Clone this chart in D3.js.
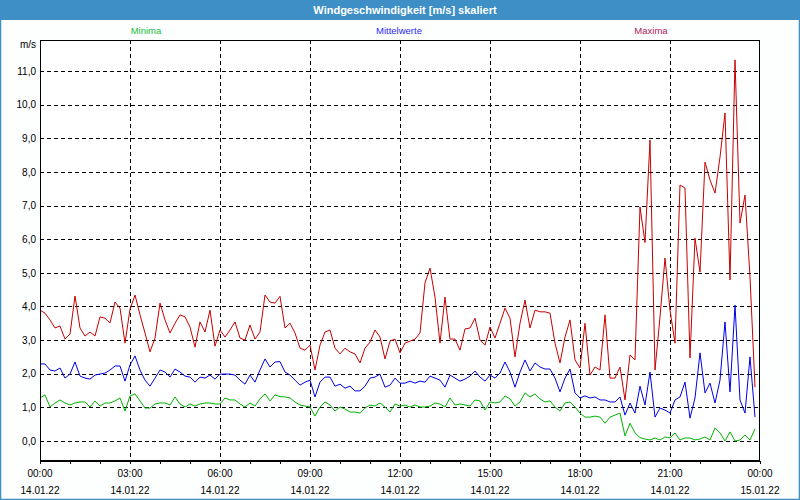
<!DOCTYPE html>
<html><head><meta charset="utf-8">
<script src="https://cdn.jsdelivr.net/npm/d3@7"></script>
<style>
html,body{margin:0;padding:0;background:#fdfefe;}
svg{display:block;}
text{font-family:"Liberation Sans",Arial,sans-serif;}
</style></head><body>
<svg id="chart" width="800" height="500"></svg>
<script>
const title = "Windgeschwindigkeit [m/s] skaliert";
const seriesNames = ["Minima", "Mittelwerte", "Maxima"];
const unitLabel = "m/s";
const yTicks = [0,1,2,3,4,5,6,7,8,9,10,11];
const xTickHours = [0,3,6,9,12,15,18,21,24];
const xTimeLabels = ["00:00","03:00","06:00","09:00","12:00","15:00","18:00","21:00","00:00"];
const xDateLabels = ["14.01.22","14.01.22","14.01.22","14.01.22","14.01.22","14.01.22","14.01.22","14.01.22","15.01.22"];
const stepMinutes = 10;

const maxima = [3.89,3.8,3.6,3.36,3.42,3.03,3.18,4.31,3.36,3.12,3.24,3.12,3.69,3.65,3.51,4.13,3.95,2.91,3.92,4.34,3.75,3.21,2.65,3.06,4.1,
3.6,3.21,3.5,3.75,3.69,3.39,2.79,3.54,3.24,3.89,2.82,3.3,3.09,3.3,3.54,3.06,3.0,3.45,3.03,3.24,4.34,4.13,4.1,4.3,
3.36,3.5,3.21,2.76,2.7,2.85,2.11,2.85,3.24,3.3,2.76,2.59,2.76,2.65,2.59,2.32,2.76,2.94,3.3,3.09,2.44,2.97,3.03,2.62,
2.91,2.97,3.03,3.21,4.7,5.14,4.28,2.91,4.28,3.03,3.03,2.7,3.33,3.36,3.65,3.0,2.85,3.39,3.06,3.5,3.95,3.65,2.5,3.5,
4.19,3.36,3.89,3.84,3.84,3.8,2.91,2.32,3.09,3.6,2.41,2.17,3.5,1.96,2.2,2.11,3.75,1.87,1.87,2.2,1.22,2.56,2.41,6.96,
5.9,8.95,2.11,3.69,5.44,3.89,2.91,7.61,7.52,2.47,6.03,5.02,8.29,7.76,7.37,8.44,9.75,4.79,11.33,6.48,7.31,4.88,1.6];

const mittel = [2.29,2.29,2.11,2.08,2.17,1.87,1.99,2.35,1.93,1.87,1.84,1.96,1.99,2.02,2.11,2.23,2.23,1.78,2.26,2.53,2.11,1.81,1.63,1.87,2.11,
2.05,1.9,2.14,2.05,1.93,1.9,1.75,1.9,1.87,1.96,1.84,1.99,1.99,1.99,1.96,1.81,1.69,1.96,1.75,2.11,2.44,2.2,2.35,2.36,
2.05,1.96,1.81,1.66,1.75,1.81,1.31,1.75,1.9,1.9,1.63,1.69,1.57,1.63,1.49,1.49,1.63,1.87,1.9,1.99,1.6,1.66,1.87,1.72,
1.72,1.78,1.72,1.78,1.75,1.93,1.87,1.81,1.6,1.96,1.87,1.78,1.84,1.93,2.08,1.9,1.78,1.96,1.87,2.02,2.35,2.05,1.6,2.05,
2.41,2.08,2.32,2.2,2.14,2.14,1.87,1.46,1.87,2.14,1.43,1.28,1.34,1.28,1.31,1.22,1.22,1.16,1.16,1.31,0.77,1.13,0.83,1.63,
1.07,2.05,0.71,0.98,0.92,0.83,1.22,1.31,1.75,0.68,1.28,2.62,1.43,1.72,1.13,1.81,3.54,1.46,4.04,1.22,0.83,2.5,0.71];

const minima = [1.28,1.37,1.01,1.13,1.22,1.13,1.07,1.13,1.16,1.16,1.01,1.19,1.04,1.13,1.13,1.19,1.28,0.89,1.34,1.4,1.19,0.98,0.98,1.1,1.13,
1.13,1.07,1.31,1.1,1.01,1.1,1.04,1.1,1.13,1.13,1.1,1.1,1.28,1.22,1.22,1.1,1.01,1.13,1.04,1.25,1.4,1.19,1.37,1.32,
1.31,1.28,1.16,1.07,1.04,1.01,0.74,1.01,1.16,1.07,0.89,1.01,0.95,0.86,0.86,0.83,0.98,1.07,1.04,1.13,1.01,0.86,1.1,1.04,
1.07,1.01,1.07,1.01,1.01,1.04,1.13,1.1,1.01,1.28,1.07,1.1,1.07,1.04,1.22,1.19,0.92,1.16,1.13,1.16,1.34,1.25,1.04,1.16,
1.43,1.31,1.4,1.25,1.16,1.19,1.01,0.89,1.13,1.16,1.01,0.83,0.71,0.71,0.74,0.71,0.53,0.71,0.77,0.83,0.15,0.53,0.24,0.1,
0.06,0.03,0.09,0.03,0.12,0.09,0.24,0.03,0.09,0.09,0.03,0.06,0.12,0.03,0.39,0.24,0.0,0.27,0.0,0.03,0.18,0.03,0.36];

const W = 800, H = 500;
const L = 40, R = 760, T = 40, B = 461;
const svg = d3.select("#chart");

// window frame and title bar
svg.append("rect").attr("x",0.5).attr("y",0.5).attr("width",W-1).attr("height",H-1)
  .attr("fill","#fdfefe").attr("stroke","#3d8fc6").attr("stroke-width",1.5);
svg.append("rect").attr("x",0).attr("y",0).attr("width",W).attr("height",20).attr("fill","#3d8fc6");
svg.append("text").attr("x",W/2+5).attr("y",14).attr("text-anchor","middle")
  .attr("fill","#ffffff").attr("font-weight","bold").attr("font-size","11px").text(title);

const x = d3.scaleLinear().domain([0,24]).range([L,R]);
const y = d3.scaleLinear().domain([0,11]).range([441,71]);

// plot background
svg.append("rect").attr("x",L).attr("y",T).attr("width",R-L).attr("height",B-T).attr("fill","#ffffff");

// grid
const grid = svg.append("g").attr("shape-rendering","crispEdges");
grid.selectAll("line.h").data(yTicks).join("line")
  .attr("x1",L).attr("x2",R).attr("y1",d=>Math.round(y(d))+0.5).attr("y2",d=>Math.round(y(d))+0.5)
  .attr("stroke","#000").attr("stroke-dasharray","4,3");
grid.selectAll("line.v").data(xTickHours.filter(h=>h>0&&h<24)).join("line")
  .attr("x1",d=>Math.round(x(d))+0.5).attr("x2",d=>Math.round(x(d))+0.5).attr("y1",T).attr("y2",B)
  .attr("stroke","#000").attr("stroke-dasharray","4,3");

// series lines
const line = d3.line().x((d,i)=>x(i*stepMinutes/60)).y(d=>y(d));
const series = [
  {name:"Maxima", data:maxima, color:"#c80000"},
  {name:"Mittelwerte", data:mittel, color:"#0000e6"},
  {name:"Minima", data:minima, color:"#00b400"}
];
const clip = svg.append("clipPath").attr("id","pc").append("rect")
  .attr("x",L).attr("y",T).attr("width",R-L).attr("height",B-T);
svg.append("g").attr("clip-path","url(#pc)").selectAll("path").data(series).join("path")
  .attr("d",d=>line(d.data)).attr("fill","none").attr("stroke",d=>d.color).attr("stroke-width",1);

// frame
svg.append("rect").attr("x",L+0.5).attr("y",T+0.5).attr("width",R-L-1).attr("height",B-T-1)
  .attr("fill","none").attr("stroke","#000").attr("stroke-width",1).attr("shape-rendering","crispEdges");
svg.append("line").attr("x1",L).attr("x2",R+1).attr("y1",B+0.5).attr("y2",B+0.5).attr("stroke","#000").attr("shape-rendering","crispEdges");

// x axis
const xAxis = d3.axisBottom(x).tickValues(d3.range(0,25,1)).tickSize(3).tickFormat("");
const xg = svg.append("g").attr("transform",`translate(0,${B})`).call(xAxis);
xg.select(".domain").remove();
xg.selectAll(".tick line").attr("stroke","#000");
const xl = svg.append("g").attr("font-size","10px").attr("fill","#000").attr("text-anchor","middle");
xl.selectAll("text.t").data(xTickHours).join("text").attr("x",d=>x(d)).attr("y",477).text((d,i)=>xTimeLabels[i]);
xl.selectAll("text.d").data(xTickHours).join("text").attr("x",d=>x(d)).attr("y",494).text((d,i)=>xDateLabels[i]);

// y axis labels
const yAxis = d3.axisLeft(y).tickValues(yTicks).tickSize(0).tickPadding(4)
  .tickFormat(d=>d3.format(".1f")(d).replace(".",","));
const yg = svg.append("g").attr("transform",`translate(${L},0)`).call(yAxis);
yg.select(".domain").remove();
yg.selectAll("text").attr("font-size","10px").attr("fill","#000").attr("font-family","Liberation Sans, Arial, sans-serif");
svg.append("text").attr("x",36).attr("y",48).attr("text-anchor","end").attr("font-size","10px").attr("fill","#000").text(unitLabel);

// legend
const legend = [
  {name:seriesNames[0], cx:146, color:"#20c040"},
  {name:seriesNames[1], cx:399, color:"#2a2aff"},
  {name:seriesNames[2], cx:651, color:"#b0205a"}
];
svg.selectAll("text.leg").data(legend).join("text").attr("class","leg")
  .attr("x",d=>d.cx).attr("y",34).attr("text-anchor","middle").attr("font-size","9.5px")
  .attr("fill",d=>d.color).text(d=>d.name);
</script>
</body></html>
